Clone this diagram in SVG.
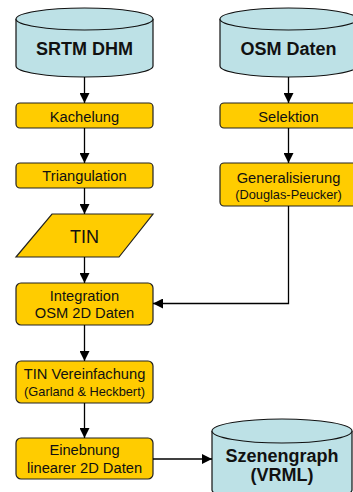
<svg xmlns="http://www.w3.org/2000/svg" width="353" height="492" viewBox="0 0 353 492">
<defs>
<marker id="ah" markerUnits="userSpaceOnUse" markerWidth="10" markerHeight="10" viewBox="0 0 8 8" refX="8" refY="4" orient="auto">
<path d="M0,0 L8,4 L0,8 Z" fill="#000"/>
</marker>
<style>
.cyl{fill:#BDE1E6;stroke:#111;stroke-width:1.2}
.box{fill:#FFCC00;stroke:#222;stroke-width:1.2}
.ct{font-family:"Liberation Sans",Arial,sans-serif;font-weight:bold;font-size:18px;fill:#111;text-anchor:middle}
.bt{font-family:"Liberation Sans",Arial,sans-serif;font-size:14.7px;fill:#111;text-anchor:middle}
.st{font-family:"Liberation Sans",Arial,sans-serif;font-size:12.8px;fill:#111;text-anchor:middle}
.tt{font-family:"Liberation Sans",Arial,sans-serif;font-size:18px;fill:#111;text-anchor:middle}
.ln{fill:none;stroke:#000;stroke-width:1.3}
</style>
</defs>
<g id="srtm">
<path class="cyl" d="M16,19 L16,66 A68.5,11 0 0 0 153,66 L153,19"/>
<ellipse class="cyl" cx="84.5" cy="19" rx="68.5" ry="11"/>
<text class="ct" x="84.5" y="55">SRTM DHM</text>
</g>
<g id="osm">
<path class="cyl" d="M220,19 L220,66 A68.5,11 0 0 0 357,66 L357,19"/>
<ellipse class="cyl" cx="288.5" cy="19" rx="68.5" ry="11"/>
<text class="ct" x="288.5" y="55">OSM Daten</text>
</g>
<g id="kachelung">
<rect class="box" x="16" y="103" width="137" height="25" rx="4"/>
<text class="bt" x="84.5" y="121.5">Kachelung</text>
</g>
<g id="triangulation">
<rect class="box" x="16" y="163" width="137" height="25" rx="4"/>
<text class="bt" x="84.5" y="181">Triangulation</text>
</g>
<g id="tin">
<polygon class="box" points="52,214 153,214 119,257 16,257"/>
<text class="tt" x="84.5" y="243">TIN</text>
</g>
<g id="selektion">
<rect class="box" x="220" y="103" width="137" height="25" rx="4"/>
<text class="bt" x="288.5" y="121.5">Selektion</text>
</g>
<g id="generalisierung">
<rect class="box" x="220" y="163" width="137" height="43" rx="4"/>
<text class="bt" x="288.5" y="182.5">Generalisierung</text>
<text class="st" x="288.5" y="199">(Douglas-Peucker)</text>
</g>
<g id="integration">
<rect class="box" x="16" y="283" width="137" height="42" rx="5"/>
<text class="bt" x="84.5" y="300.5">Integration</text>
<text class="bt" x="84.5" y="318">OSM 2D Daten</text>
</g>
<g id="vereinfachung">
<rect class="box" x="16" y="361" width="137" height="42" rx="5"/>
<text class="bt" x="84.5" y="379">TIN Vereinfachung</text>
<text class="st" x="84.5" y="395.5">(Garland &amp; Heckbert)</text>
</g>
<g id="einebnung">
<rect class="box" x="16" y="438" width="137" height="41" rx="5"/>
<text class="bt" x="84.5" y="454.5">Einebnung</text>
<text class="bt" x="84.5" y="472.5">linearer 2D Daten</text>
</g>
<g id="szenengraph">
<path class="cyl" d="M212,431 L212,490 A70,11 0 0 0 352,490 L352,431"/>
<ellipse class="cyl" cx="282" cy="431" rx="70" ry="12"/>
<text class="ct" x="282" y="462">Szenengraph</text>
<text class="ct" x="282" y="481">(VRML)</text>
</g>
<g id="connectors">
<line class="ln" x1="84.5" y1="77" x2="84.5" y2="103" marker-end="url(#ah)"/>
<line class="ln" x1="84.5" y1="128" x2="84.5" y2="163" marker-end="url(#ah)"/>
<line class="ln" x1="84.5" y1="188" x2="84.5" y2="214" marker-end="url(#ah)"/>
<line class="ln" x1="84.5" y1="257" x2="84.5" y2="283" marker-end="url(#ah)"/>
<line class="ln" x1="84.5" y1="325" x2="84.5" y2="361" marker-end="url(#ah)"/>
<line class="ln" x1="84.5" y1="403" x2="84.5" y2="438" marker-end="url(#ah)"/>
<line class="ln" x1="288.5" y1="77" x2="288.5" y2="103" marker-end="url(#ah)"/>
<line class="ln" x1="288.5" y1="128" x2="288.5" y2="163" marker-end="url(#ah)"/>
<polyline class="ln" points="288.5,206 288.5,303.5 153,303.5" marker-end="url(#ah)"/>
<line class="ln" x1="153" y1="459" x2="212" y2="459" marker-end="url(#ah)"/>
</g>
</svg>
